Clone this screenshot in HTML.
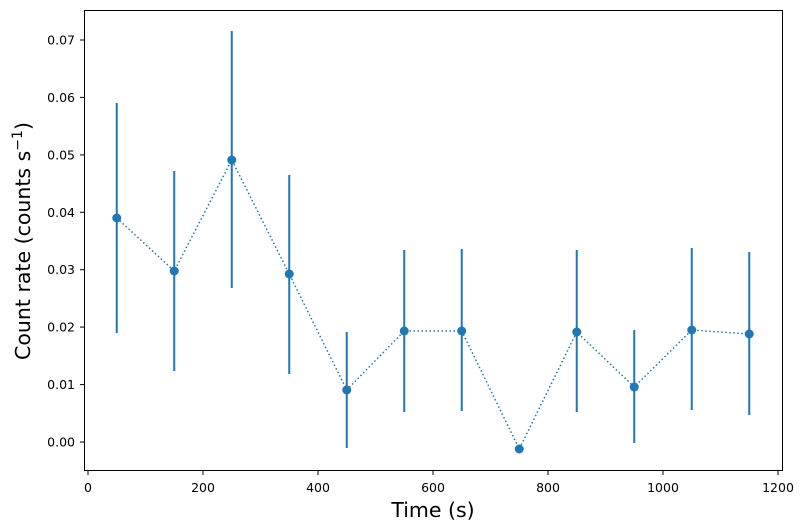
<!DOCTYPE html>
<html><head><style>body{margin:0;background:#fff}svg{display:block}</style></head><body>
<svg width="806" height="531" xmlns="http://www.w3.org/2000/svg" font-family="DejaVu Sans, Liberation Sans, sans-serif">
<rect width="806" height="531" fill="#fff"/>
<g stroke="#1f77b4" stroke-width="2">
<line x1="116.75" y1="103" x2="116.75" y2="333"/>
<line x1="174.25" y1="171" x2="174.25" y2="371"/>
<line x1="231.75" y1="31" x2="231.75" y2="288"/>
<line x1="289.25" y1="175" x2="289.25" y2="374"/>
<line x1="346.75" y1="332" x2="346.75" y2="448"/>
<line x1="404.25" y1="250" x2="404.25" y2="412"/>
<line x1="461.75" y1="249" x2="461.75" y2="411"/>
<line x1="576.75" y1="250" x2="576.75" y2="412"/>
<line x1="634.25" y1="330" x2="634.25" y2="443"/>
<line x1="691.75" y1="248" x2="691.75" y2="410"/>
<line x1="749.25" y1="252" x2="749.25" y2="415"/>
</g>
<polyline fill="none" stroke="#1f77b4" stroke-width="1.5" stroke-dasharray="1.5,2.5" points="116.75,218 174.25,271 231.75,160 289.25,274 346.75,390 404.25,331 461.75,331 519.25,449 576.75,332 634.25,387 691.75,330 749.25,334"/>
<g fill="#1f77b4">
<circle cx="116.75" cy="218" r="4.5"/><circle cx="174.25" cy="271" r="4.5"/><circle cx="231.75" cy="160" r="4.5"/><circle cx="289.25" cy="274" r="4.5"/><circle cx="346.75" cy="390" r="4.5"/><circle cx="404.25" cy="331" r="4.5"/><circle cx="461.75" cy="331" r="4.5"/><circle cx="519.25" cy="449" r="4.5"/><circle cx="576.75" cy="332" r="4.5"/><circle cx="634.25" cy="387" r="4.5"/><circle cx="691.75" cy="330" r="4.5"/><circle cx="749.25" cy="334" r="4.5"/>
</g>
<rect x="84.5" y="10.5" width="698" height="460" fill="none" stroke="#000" stroke-width="1"/>
<g stroke="#000" stroke-width="1">
<line x1="88" y1="471" x2="88" y2="475"/><line x1="203" y1="471" x2="203" y2="475"/><line x1="318" y1="471" x2="318" y2="475"/><line x1="433" y1="471" x2="433" y2="475"/><line x1="548" y1="471" x2="548" y2="475"/><line x1="663" y1="471" x2="663" y2="475"/><line x1="778" y1="471" x2="778" y2="475"/>
<line x1="80" y1="442" x2="84" y2="442"/><line x1="80" y1="384.6" x2="84" y2="384.6"/><line x1="80" y1="327.1" x2="84" y2="327.1"/><line x1="80" y1="269.7" x2="84" y2="269.7"/><line x1="80" y1="212.3" x2="84" y2="212.3"/><line x1="80" y1="154.9" x2="84" y2="154.9"/><line x1="80" y1="97.4" x2="84" y2="97.4"/><line x1="80" y1="40" x2="84" y2="40"/>
</g>
<g font-size="12.5" text-anchor="middle" fill="#000">
<text x="88" y="492">0</text><text x="203" y="492">200</text><text x="318" y="492">400</text><text x="433" y="492">600</text><text x="548" y="492">800</text><text x="663" y="492">1000</text><text x="778" y="492">1200</text>
</g>
<g font-size="12.5" text-anchor="end" fill="#000">
<text x="75" y="446.5">0.00</text><text x="75" y="389.1">0.01</text><text x="75" y="331.6">0.02</text><text x="75" y="274.2">0.03</text><text x="75" y="216.8">0.04</text><text x="75" y="159.4">0.05</text><text x="75" y="101.9">0.06</text><text x="75" y="44.5">0.07</text>
</g>
<text x="433" y="517" font-size="20.5" text-anchor="middle">Time (s)</text>
<text transform="translate(30,241) rotate(-90)" font-size="20.5" text-anchor="middle">Count rate (counts s<tspan dy="-8" font-size="14">−1</tspan><tspan dy="8">)</tspan></text>
</svg>
</body></html>
